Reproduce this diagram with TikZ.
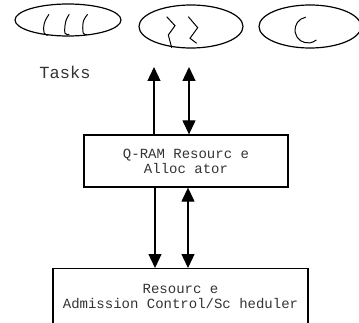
\documentclass[tikz,border=0pt]{standalone}
\usepackage{fontspec}
\setmonofont{Liberation Mono}
\usepackage{tikz}
\usetikzlibrary{positioning, calc, shapes.geometric, arrows.meta}

\begin{document}
\begin{tikzpicture}[x=1pt, y=1pt,
                    task/.style={draw, ellipse, line width=1.2pt, inner sep=0pt},
                    block/.style={draw, rectangle, line width=1.3pt, inner sep=0pt},
                    words/.style={font=\ttfamily\fontsize{14}{15}\selectfont, text=black!80, align=center},
                    link/.style={line width=1.2pt},
                    tip/.style={-{Triangle[width=13pt,length=14pt]}},
                    tips/.style={{Triangle[width=13pt,length=14pt]}-{Triangle[width=13pt,length=14pt]}}]
                    \useasboundingbox (0,0) rectangle (359,322);
                    % the tasks
                    \node[task, minimum width=106pt, minimum height=32pt] (taskA) at (68,302) {};
                    \node[task, minimum width=104pt, minimum height=43pt] (taskB) at (191,295.5) {};
                    \node[task, minimum width=102pt, minimum height=43pt] (taskC) at (310,295.5) {};
                    \draw[line width=1pt] plot [smooth, tension=0.7] coordinates {(49,307.7) (44.3,298.7) (44.3,288.7) (48.3,287)};
                    \draw[line width=1pt] plot [smooth, tension=0.7] coordinates {(69.3,307.7) (65.7,300.3) (65,288.7) (69.3,287.7)};
                    \draw[line width=1pt] plot [smooth, tension=0.7] coordinates {(87.7,307.7) (83.3,300.3) (83.3,288.7) (86.7,287.7)};
                    \draw[line width=1pt] (166.7,305.3) -- (175,296.3) -- (168.3,287) -- (171.7,274.3);
                    \draw[line width=1pt] (188.3,305.3) -- (197.7,294.3) -- (190,283.7) -- (196.7,278.7);
                    \draw[line width=1pt] (305.7,304.8) arc[start angle=100, end angle=310, radius=13];
                    \node[anchor=base, font=\ttfamily\fontsize{17}{18}\selectfont, text=black!80] (tasks) at (65,243.7) {Tasks};
                    % allocator and scheduler
                    \node[block, minimum width=204pt, minimum height=52pt, words] (alloc) at (186,161) {Q-RAM Resourc e\\Alloc ator};
                    \node[block, minimum width=255pt, minimum height=84pt, anchor=north] (sched) at (180.5,54) {};
                    \node[words] (schedtext) at (180.5,26) {Resourc e\\Admission Control/Sc heduler};
                    \coordinate (up1) at (154,255);
                    \coordinate (up2) at (189,255);
                    \coordinate (dn1) at (155,0);
                    \coordinate (dn2) at (188,0);
                    \draw[link, tip]  (alloc.north -| up1) -- (up1);
                    \draw[link, tips] (alloc.north -| up2) -- (up2);
                    \draw[link, tip]  (alloc.south -| dn1) -- (sched.north -| dn1);
                    \draw[link, tips] (alloc.south -| dn2) -- (sched.north -| dn2);
                \end{tikzpicture}
\end{document}
